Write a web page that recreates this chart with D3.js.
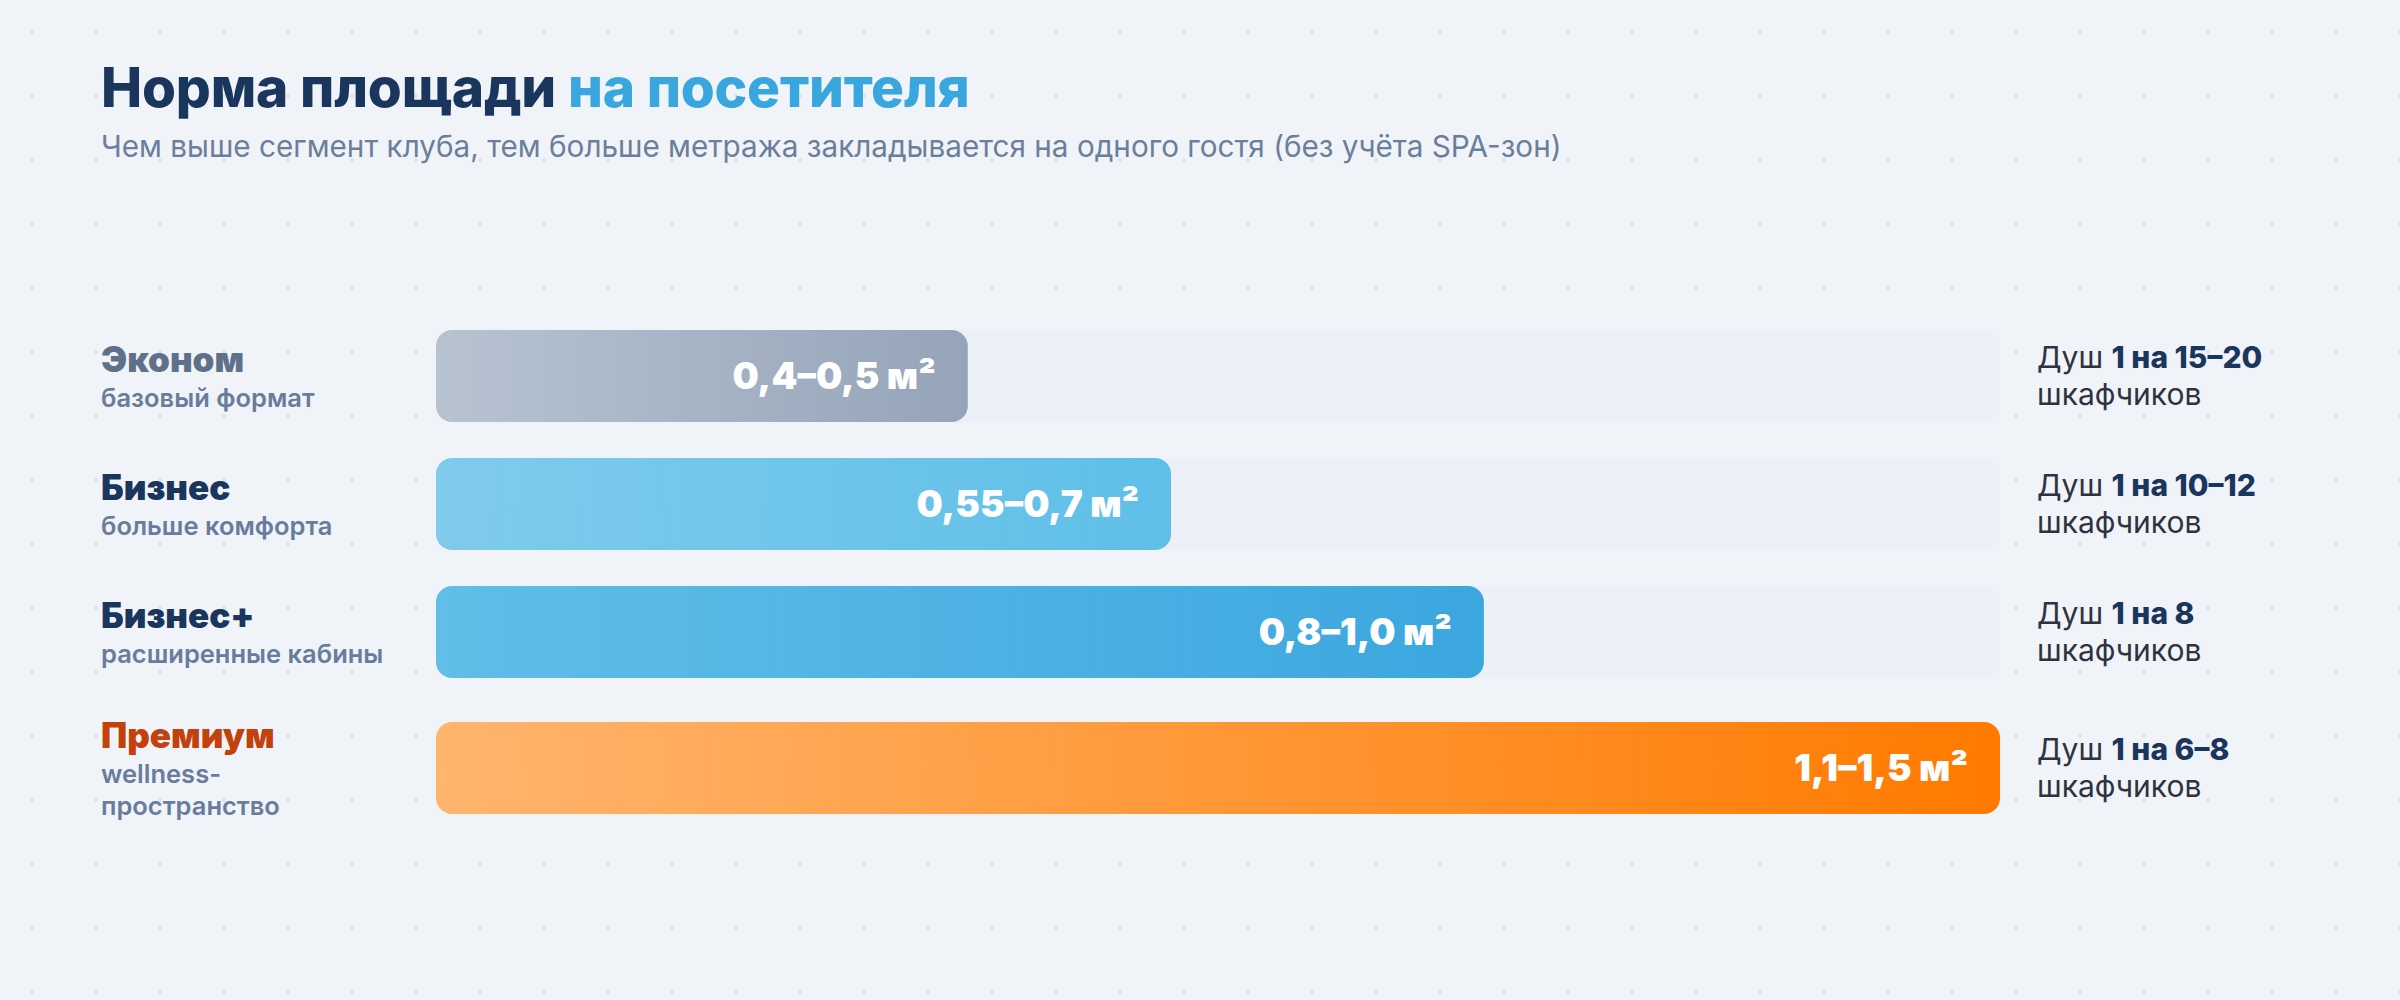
<!DOCTYPE html>
<html>
<head>
<meta charset="utf-8">
<script src="https://cdn.jsdelivr.net/npm/d3@7"></script>
<style>
  html, body { margin: 0; padding: 0; background: #f0f4f8; }
  svg { display: block; font-family: Inter, "Noto Sans", sans-serif; }
</style>
</head>
<body>
<svg id="chart" width="2400" height="1000"></svg>
<script>
// chart data
const segments = ["Эконом", "Бизнес", "Бизнес+", "Премиум"];
const subLabels = [["базовый формат"], ["больше комфорта"], ["расширенные кабины"], ["wellness-", "пространство"]];
const areaMin = [0.4, 0.55, 0.8, 1.1];
const areaMax = [0.5, 0.7, 1.0, 1.5];
const barShare = [34, 47, 67, 100];   // bar fill, % of track
const showerRatio = ["15–20", "10–12", "8", "6–8"];

const titleDark = "Норма площади ";
const titleAccent = "на посетителя";
const subtitle = "Чем выше сегмент клуба, тем больше метража закладывается на одного гостя (без учёта SPA-зон)";

const W = 2400, H = 1000;
const svg = d3.select("#chart");

// colours per segment
const labelColors = ["#5f7189", "#1b365d", "#1b365d", "#c2410c"];
const gradStops = [
  ["#b7c3d1", "#95a4b9"],
  ["#7fcbec", "#5fbfe8"],
  ["#60bee8", "#3ba7df"],
  ["#ffb56e", "#ff7a00"]
];

const defs = svg.append("defs");

// dotted background
const pat = defs.append("pattern")
    .attr("id", "dots")
    .attr("width", 64).attr("height", 64)
    .attr("patternUnits", "userSpaceOnUse");
pat.append("path")
    .attr("d", "M32,29.5 L34.5,32 L32,34.5 L29.5,32 Z")
    .attr("fill", "#dde4ec");

svg.append("rect").attr("width", W).attr("height", H).attr("fill", "#f0f4f8");
svg.append("rect").attr("width", W).attr("height", H).attr("fill", "url(#dots)");

gradStops.forEach(function(s, i) {
  const g = defs.append("linearGradient")
      .attr("id", "grad" + i)
      .attr("x1", "0%").attr("x2", "100%").attr("y1", "0%").attr("y2", "0%");
  g.append("stop").attr("offset", "0%").attr("stop-color", s[0]);
  g.append("stop").attr("offset", "100%").attr("stop-color", s[1]);
});

// title
const title = svg.append("text")
    .attr("x", 101).attr("y", 107)
    .attr("font-size", 55).attr("font-weight", 800)
    .attr("letter-spacing", -0.2);
title.append("tspan").attr("fill", "#1b365d").text(titleDark);
title.append("tspan").attr("fill", "#3aa6de").text(titleAccent);

svg.append("text")
    .attr("x", 101).attr("y", 157)
    .attr("font-size", 29.7).attr("fill", "#6b7f9c")
    .text(subtitle);

// layout of rows
const barH = 92, gap = 36, extraLine = 16, firstTop = 330;
const x = d3.scaleLinear().domain([0, 100]).range([436, 2000]);

let rowTop = firstTop;
const rows = segments.map(function(name, i) {
  const n = subLabels[i].length;
  const rowH = barH + (n - 1) * extraLine;
  const r = {
    i: i,
    name: name,
    sub: subLabels[i],
    min: areaMin[i],
    max: areaMax[i],
    share: barShare[i],
    ratio: showerRatio[i],
    y: rowTop + (rowH - barH) / 2
  };
  r.cy = r.y + barH / 2;
  rowTop += rowH + gap;
  return r;
});

const fmt = v => (Number.isInteger(v) ? v.toFixed(1) : String(v)).replace(".", ",");

const row = svg.selectAll("g.row")
  .data(rows)
  .join("g")
    .attr("class", "row");

// track
row.append("rect")
    .attr("x", x(0)).attr("y", d => d.y)
    .attr("width", x(100) - x(0)).attr("height", barH)
    .attr("rx", 16)
    .attr("fill", "#ecf1f8");

// bar
row.append("rect")
    .attr("x", x(0)).attr("y", d => d.y)
    .attr("width", d => x(d.share) - x(0)).attr("height", barH)
    .attr("rx", 16)
    .attr("fill", d => "url(#grad" + d.i + ")");

// value inside bar
row.append("text")
    .attr("x", d => x(d.share) - 32)
    .attr("y", d => d.cy + 13)
    .attr("text-anchor", "end")
    .attr("font-size", 37).attr("font-weight", 900)
    .attr("fill", "#fff")
    .text(d => fmt(d.min) + "–" + fmt(d.max) + " м²");

// left labels
row.append("text")
    .attr("x", 101)
    .attr("y", d => d.cy - 4 - (d.sub.length - 1) * 16)
    .attr("font-size", 35).attr("font-weight", 900)
    .attr("fill", d => labelColors[d.i])
    .text(d => d.name);

row.each(function(d) {
  const g = d3.select(this);
  const base = d.cy - 4 - (d.sub.length - 1) * 16;
  d.sub.forEach(function(line, k) {
    g.append("text")
        .attr("x", 101)
        .attr("y", base + 35 + k * 32)
        .attr("font-size", 25.5).attr("font-weight", 600)
        .attr("fill", "#687d9c")
        .text(line);
  });
});

// shower ratio on the right
const note = row.append("text")
    .attr("x", 2037)
    .attr("y", d => d.cy - 8)
    .attr("font-size", 30)
    .attr("fill", "#2d3340");
note.append("tspan").text("Душ ");
note.append("tspan")
    .attr("font-weight", 800).attr("fill", "#1b365d")
    .text(d => "1 на " + d.ratio);

row.append("text")
    .attr("x", 2037)
    .attr("y", d => d.cy + 29)
    .attr("font-size", 30)
    .attr("fill", "#2d3340")
    .text("шкафчиков");
</script>
</body>
</html>
